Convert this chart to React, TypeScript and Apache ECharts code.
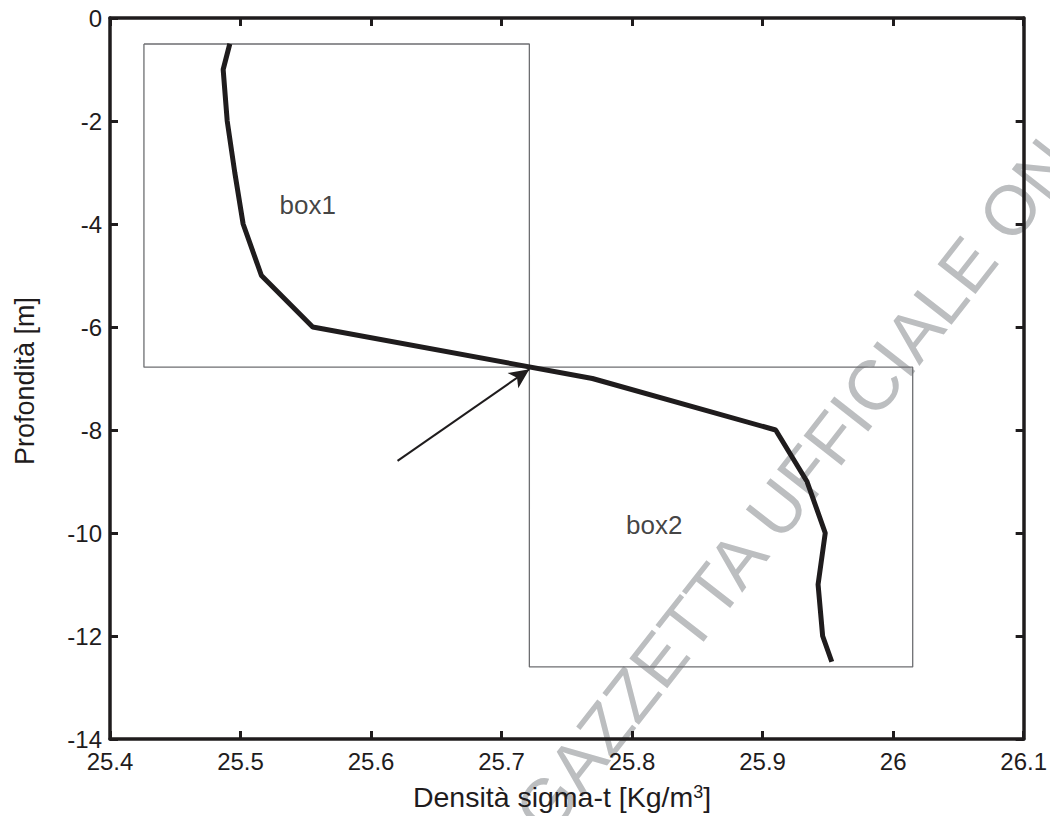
import React, { useEffect, useRef } from "react";
import * as echarts from "echarts";

// Profile data (depth in m, density sigma-t)
const depth = [-0.5, -1, -2, -3, -4, -5, -6, -7, -8, -9, -10, -11, -12, -12.5];
const sigmaT = [25.4918, 25.4867, 25.4898, 25.4956, 25.502, 25.516, 25.5553, 25.7696, 25.91, 25.934, 25.948, 25.9425, 25.946, 25.953];

// Boxes: [xMin, xMax, yMin, yMax]
const box1 = [25.426, 25.7213, -6.78, -0.505];
const box2 = [25.7213, 26.015, -12.6, -6.78];
const boxNames = ["box1", "box2"];
const boxLabelPos = [
  [25.5515, -3.63],
  [25.817, -9.84],
];

// Arrow from tail to head
const arrowTail = [25.6203, -8.6];
const arrowHead = [25.7213, -6.82];

// Axis ranges
const xRange = [25.4, 26.1, 0.1];
const yRange = [-14, 0, 2];

const FONT = "Liberation Sans";
const INK = "#1f1c1d";

function boxPoly(b: number[]) {
  return [
    [b[0], b[3]],
    [b[1], b[3]],
    [b[1], b[2]],
    [b[0], b[2]],
    [b[0], b[3]],
  ];
}

export default function App() {
  const ref = useRef<HTMLDivElement>(null);
  useEffect(() => {
    if (!ref.current) return;
    const chart = echarts.init(ref.current, null, { renderer: "svg" });
    const axisCommon = {
      axisLine: { show: true, onZero: false, lineStyle: { color: INK, width: 3.5 } },
      axisTick: { show: true, inside: true, length: 8, lineStyle: { color: INK, width: 3 } },
      splitLine: { show: false },
    };
    const xFmt = (v: number) => String(Number(v.toFixed(1)));
    const xBase = { type: "value", min: xRange[0], max: xRange[1], interval: xRange[2], ...axisCommon };
    const yBase = { type: "value", min: yRange[0], max: yRange[1], interval: yRange[2], ...axisCommon };
    const option = {
      animation: false,
      grid: { left: 110, top: 18, right: 25, bottom: 77 },
      xAxis: [
        {
          ...xBase,
          position: "bottom",
          axisLabel: {
            show: true,
            margin: 10,
            fontSize: 24,
            fontFamily: FONT,
            color: INK,
            formatter: xFmt,
            showMinLabel: true,
            showMaxLabel: true,
          },
        },
        { ...xBase, position: "top", axisLabel: { show: false } },
      ],
      yAxis: [
        {
          ...yBase,
          position: "left",
          axisLabel: {
            show: true,
            margin: 8,
            fontSize: 24,
            fontFamily: FONT,
            color: INK,
            showMinLabel: true,
            showMaxLabel: true,
          },
        },
        { ...yBase, position: "right", axisLabel: { show: false } },
      ],
      series: [
        {
          type: "line",
          data: boxPoly(box1),
          showSymbol: false,
          lineStyle: { color: "#6d6e71", width: 1.3 },
          z: 2,
          silent: true,
        },
        {
          type: "line",
          data: boxPoly(box2),
          showSymbol: false,
          lineStyle: { color: "#6d6e71", width: 1.3 },
          z: 2,
          silent: true,
        },
        {
          type: "line",
          data: sigmaT.map((x, i) => [x, depth[i]]),
          showSymbol: false,
          lineStyle: { color: INK, width: 5 },
          z: 3,
          silent: true,
        },
        {
          type: "line",
          data: [],
          z: 4,
          markLine: {
            silent: true,
            animation: false,
            symbol: ["none", "arrow"],
            symbolSize: [14, 20],
            label: { show: false },
            lineStyle: { color: INK, width: 2, type: "solid" },
            data: [[{ coord: arrowTail }, { coord: arrowHead }]],
          },
        },
        {
          type: "scatter",
          symbolSize: 0,
          data: boxNames.map((n, i) => ({ name: n, value: boxLabelPos[i] })),
          label: {
            show: true,
            position: "inside",
            formatter: "{b}",
            fontSize: 26,
            fontFamily: FONT,
            color: "#111",
          },
          z: 5,
          silent: true,
        },
      ],
      graphic: [
        {
          type: "text",
          x: 530,
          y: 825,
          rotation: (52 * Math.PI) / 180,
          z: 0,
          silent: true,
          style: {
            text: "GAZZETTA UFFICIALE ON",
            fontSize: 70,
            fontFamily: FONT,
            fill: "#bcbec0",
            align: "left",
            verticalAlign: "middle",
          },
        },
        {
          type: "text",
          x: 25,
          y: 381,
          rotation: Math.PI / 2,
          silent: true,
          style: {
            text: "Profondità [m]",
            fontSize: 27,
            fontFamily: FONT,
            fill: INK,
            align: "center",
            verticalAlign: "middle",
          },
        },
        {
          type: "text",
          x: 562,
          y: 797,
          silent: true,
          style: {
            text: "{a|Densità sigma-t [Kg/m}{s|3}{a|]}",
            align: "center",
            verticalAlign: "middle",
            rich: {
              a: { fontSize: 28.5, fontFamily: FONT, fill: INK, color: INK, verticalAlign: "bottom" },
              s: { fontSize: 18, fontFamily: FONT, fill: INK, color: INK, verticalAlign: "top" },
            },
          },
        },
      ],
    };
    chart.setOption(option as any);
    return () => chart.dispose();
  }, []);
  return (
    <div
      ref={ref}
      style={{ position: "fixed", left: 0, top: 0, width: 1050, height: 816, background: "#fff" }}
    />
  );
}
